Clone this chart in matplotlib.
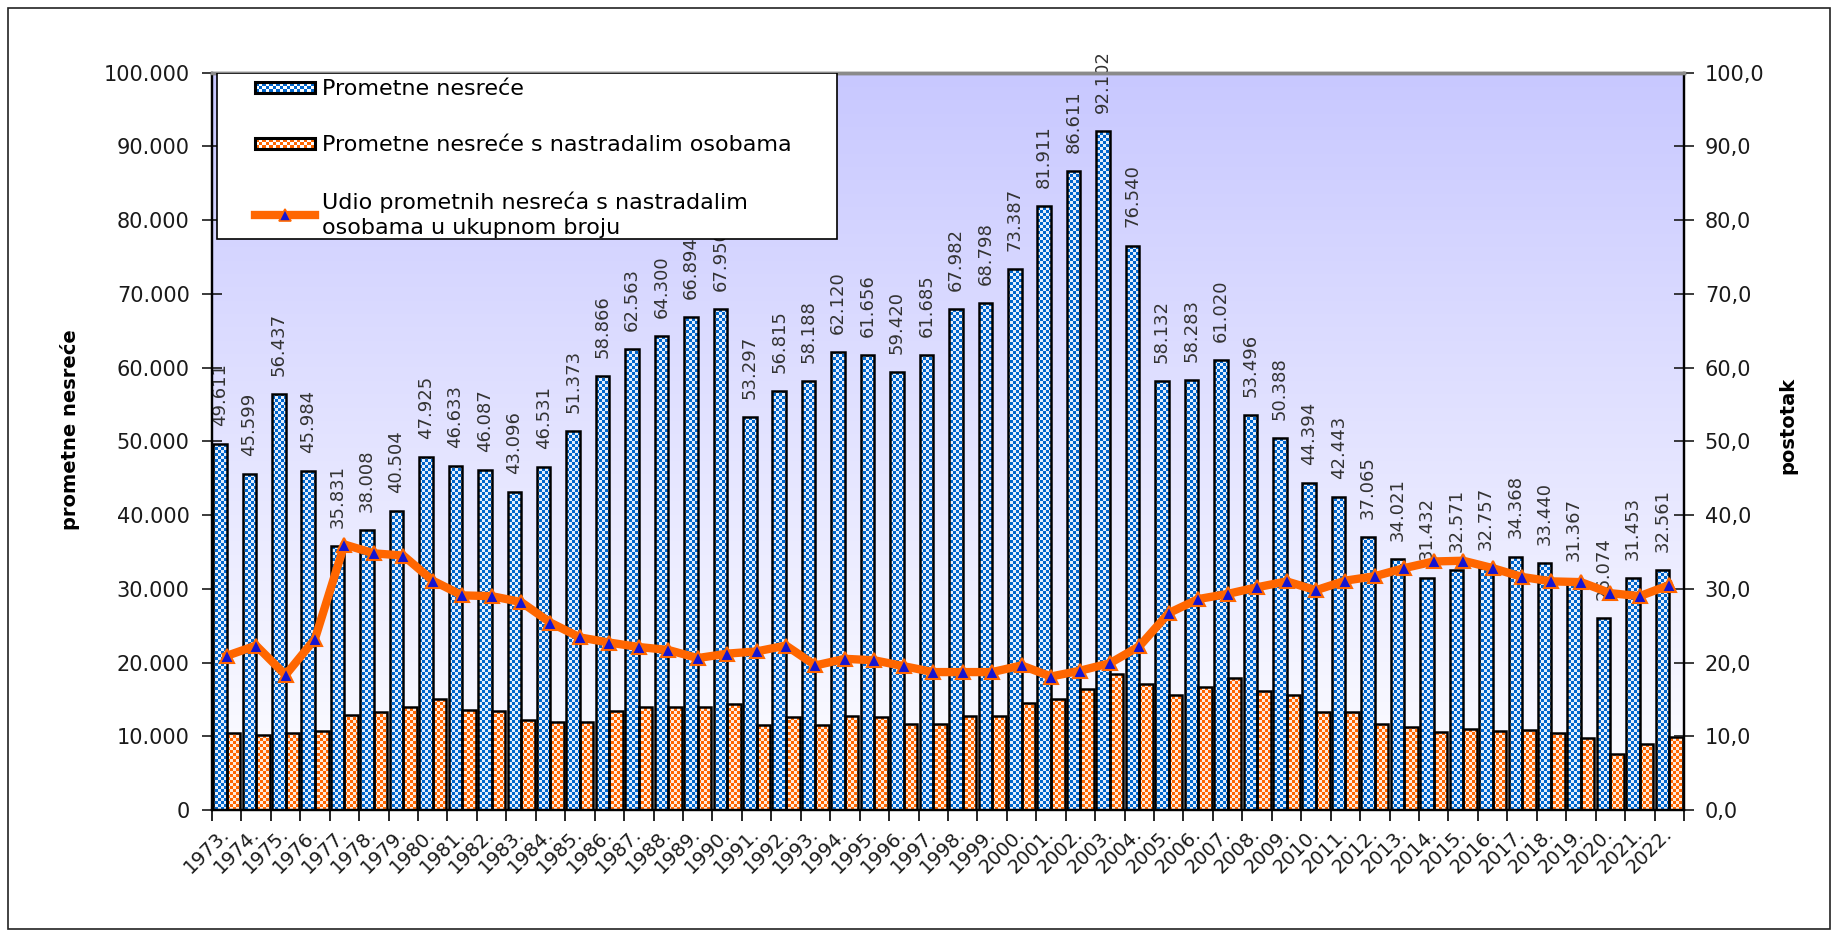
import numpy as np
import matplotlib
matplotlib.use("Agg")
import matplotlib.pyplot as plt
from matplotlib.patches import Rectangle, PathPatch, Patch
from matplotlib.path import Path
from matplotlib.lines import Line2D
from matplotlib.legend_handler import HandlerBase

plt.rcParams['font.family'] = ['DejaVu Sans']

# Data
years = list(range(1973, 2023))
total = [49611, 45599, 56437, 45984, 35831, 38008, 40504, 47925, 46633, 46087,
         43096, 46531, 51373, 58866, 62563, 64300, 66894, 67950, 53297, 56815,
         58188, 62120, 61656, 59420, 61685, 67982, 68798, 73387, 81911, 86611,
         92102, 76540, 58132, 58283, 61020, 53496, 50388, 44394, 42443, 37065,
         34021, 31432, 32571, 32757, 34368, 33440, 31367, 26074, 31453, 32561]
injured = [10400, 10200, 10400, 10700, 12900, 13300, 13900, 15000, 13600, 13400,
           12200, 11900, 12000, 13400, 13900, 14000, 13900, 14400, 11500, 12600,
           11500, 12800, 12600, 11700, 11600, 12800, 12800, 14500, 15000, 16400,
           18400, 17100, 15600, 16700, 17900, 16200, 15600, 13300, 13300, 11700,
           11300, 10600, 11000, 10700, 10900, 10500, 9700, 7600, 9000, 9900]
share = [20.9, 22.3, 18.3, 23.2, 36.0, 34.8, 34.5, 31.1, 29.1, 29.0,
         28.2, 25.4, 23.4, 22.7, 22.1, 21.7, 20.6, 21.2, 21.5, 22.3,
         19.6, 20.5, 20.3, 19.5, 18.7, 18.7, 18.7, 19.6, 18.1, 18.9,
         19.9, 22.2, 26.7, 28.6, 29.3, 30.2, 31.0, 29.8, 31.1, 31.7,
         32.8, 33.7, 33.8, 32.8, 31.6, 31.0, 30.9, 29.4, 29.0, 30.5]

lbl_total = "Prometne nesreće"
lbl_injured = "Prometne nesreće s nastradalim osobama"
lbl_share = "Udio prometnih nesreća s nastradalim\nosobama u ukupnom broju"

BLUE = (0 / 255, 102 / 255, 204 / 255)
ORANGE = (1.0, 102 / 255, 0.0)
BLUE_LIGHT = (228 / 255, 238 / 255, 252 / 255)
ORANGE_LIGHT = (1.0, 236 / 255, 222 / 255)
TRI = '#1414d2'

x = np.arange(len(years))
w = 0.46
ext = (-0.5, len(years) - 0.5, 0, 100000)


def checker(color, light, nx, ny):
    img = np.ones((ny, nx, 3)) * np.array(light)
    ii, jj = np.indices((ny, nx))
    img[(ii + jj) % 2 == 0] = color
    return img


class CheckerHandler(HandlerBase):
    def __init__(self, color):
        super().__init__()
        self.color = color

    def create_artists(self, legend, orig_handle, xdescent, ydescent,
                       width, height, fontsize, trans):
        h = 7.5
        x0 = -xdescent
        y0 = -ydescent + (height - h) / 2
        s = h / 3
        arts = [Rectangle((x0, y0), width, h, facecolor='white',
                          edgecolor='none', transform=trans)]
        for r in range(3):
            for c in range(int(width / s)):
                if (r + c) % 2 == 0:
                    arts.append(Rectangle((x0 + c * s, y0 + r * s), s, s,
                                          facecolor=self.color, edgecolor='none',
                                          transform=trans))
        arts.append(Rectangle((x0, y0), width, h, facecolor='none',
                              edgecolor='black', lw=2.2, transform=trans))
        return arts


fig = plt.figure(figsize=(18.38, 9.32), dpi=100)
fig.add_artist(Rectangle((8 / 1838, 3 / 932), 1822 / 1838, 921 / 932,
                         transform=fig.transFigure, fill=False,
                         edgecolor='#222222', lw=1.2))

ax = fig.add_axes([0.1153, 0.1309, 0.8009, 0.7913])

# gradient background
grad = np.linspace(0, 1, 256)[:, None, None]
top = np.array([200, 200, 255]) / 255
bg = top * (1 - grad) + np.ones(3) * grad
ax.imshow(bg, extent=ext, aspect='auto', zorder=0, interpolation='bilinear')

# bars (outline) + checker fills clipped to bars
bars_t = ax.bar(x - w / 2, total, w, facecolor='none', edgecolor='black',
                lw=1.8, zorder=3)
bars_i = ax.bar(x + w / 2, injured, w, facecolor='none', edgecolor='black',
                lw=1.8, zorder=3)

for bars, col, light in ((bars_t, BLUE, BLUE_LIGHT), (bars_i, ORANGE, ORANGE_LIGHT)):
    paths = [b.get_path().transformed(b.get_patch_transform()) for b in bars]
    clip = PathPatch(Path.make_compound_path(*paths), transform=ax.transData,
                     facecolor='none', edgecolor='none')
    ax.add_patch(clip)
    im = ax.imshow(checker(col, light, 491, 246), extent=ext, aspect='auto',
                   interpolation='nearest', zorder=2)
    im.set_clip_path(clip)

for xi, v in zip(x, total):
    ax.annotate(f"{v:,}".replace(',', '.'), (xi - w / 2, v),
                xytext=(0, 13), textcoords='offset points',
                rotation=90, ha='center', va='bottom', fontsize=13,
                color='#333333', zorder=4, annotation_clip=False)

ax.set_xlim(-0.5, len(years) - 0.5)
ax.set_ylim(0, 100000)
ax.set_yticks(np.arange(0, 100001, 10000))
ax.set_yticklabels([f"{v:,}".replace(',', '.') for v in range(0, 100001, 10000)])
ax.tick_params(axis='y', direction='inout', length=14, width=1.2,
               labelsize=15, pad=9, colors='#1a1a1a')

ax.set_xticks(np.arange(len(years) + 1) - 0.5)
ax.set_xticklabels([])
ax.tick_params(axis='x', which='major', direction='out', length=8, width=1.2)
ax.set_xticks(x, minor=True)
ax.set_xticklabels([f"{y}." for y in years], minor=True, rotation=45,
                   ha='right', va='center', rotation_mode='anchor')
ax.tick_params(axis='x', which='minor', length=0, pad=15, labelsize=14,
               colors='#1a1a1a')

ax2 = ax.twinx()
ax2.plot(x, share, color='#FF6600', lw=6, marker='^', ms=10,
         mfc=TRI, mec='#FF6600', mew=1.5, zorder=5, solid_joinstyle='round')
ax2.set_ylim(0, 100)
ax2.set_yticks(np.arange(0, 101, 10))
ax2.set_yticklabels([f"{v},0" for v in range(0, 101, 10)])
ax2.tick_params(axis='y', direction='inout', length=14, width=1.2,
                labelsize=15, pad=8, colors='#1a1a1a')

for a in (ax, ax2):
    for s in ('left', 'right', 'bottom'):
        a.spines[s].set_color('black')
        a.spines[s].set_linewidth(1.6)
    a.spines['top'].set_color('#8a8a8a')
    a.spines['top'].set_linewidth(2.5)

# legend box and entries
ax2.add_patch(Rectangle((0.0034, 0.774), 0.4212, 0.226, transform=ax2.transAxes,
                        facecolor='white', edgecolor='black', lw=1.2, zorder=8))
h_t = Patch(label=lbl_total)
h_i = Patch(label=lbl_injured)
h_s = Line2D([], [], color='#FF6600', lw=6, marker='^', ms=8, mfc=TRI,
             mec='#FF6600', mew=1.2, label=lbl_share)
leg = ax2.legend(handles=[h_t, h_i, h_s], loc='upper left',
                 bbox_to_anchor=(0.0295, 0.991), frameon=False, fontsize=16,
                 borderpad=0, borderaxespad=0, handlelength=2.7,
                 handletextpad=0.3, labelspacing=1.62,
                 handler_map={h_t: CheckerHandler(BLUE),
                              h_i: CheckerHandler(ORANGE)})
leg.get_texts()[2].set_linespacing(1.35)
leg.set_zorder(9)

fig.text(70 / 1838, 1 - 430 / 932, "prometne nesreće", rotation=90,
         ha='center', va='center', fontsize=14, fontweight='bold')
fig.text(1788 / 1838, 1 - 425 / 932, "postotak", rotation=90,
         ha='center', va='center', fontsize=14, fontweight='bold')

fig.savefig("out.png", dpi=100)
